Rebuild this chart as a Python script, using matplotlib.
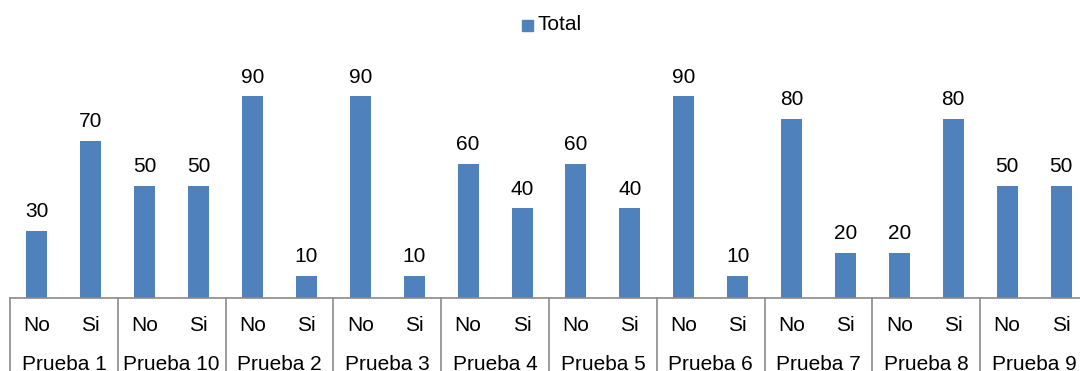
import matplotlib
matplotlib.use("Agg")
import matplotlib.pyplot as plt
from matplotlib.patches import Rectangle
from matplotlib.transforms import blended_transform_factory

pruebas = ["Prueba 1", "Prueba 10", "Prueba 2", "Prueba 3", "Prueba 4",
           "Prueba 5", "Prueba 6", "Prueba 7", "Prueba 8", "Prueba 9"]
respuestas = ["No", "Si"]
total_no = [30, 50, 90, 90, 60, 60, 90, 80, 20, 50]
total_si = [70, 50, 10, 10, 40, 40, 10, 20, 80, 50]

plt.rcParams["font.family"] = ["Liberation Sans", "DejaVu Sans"]
FS = 15
BLUE = "#4F81BD"
GRAY = "#8A8A8A"

W, H = 1080, 371
fig = plt.figure(figsize=(W / 100, H / 100), dpi=100)
ax = fig.add_axes([10 / W, (H - 298) / H, 1078 / W, 224 / H])

valores = []
for n, s in zip(total_no, total_si):
    valores += [n, s]
xs = list(range(len(valores)))

bars = ax.bar(xs, valores, width=0.39, color=BLUE, zorder=2)
for x, v in zip(xs, valores):
    ax.annotate(str(v), (x, v), xytext=(0, 10), textcoords="offset points",
                ha="center", va="baseline", fontsize=FS, color="black",
                annotation_clip=False)

ax.set_xlim(-0.5, len(valores) - 0.5)
ax.set_ylim(0, 100)
for side in ["top", "right", "left"]:
    ax.spines[side].set_visible(False)
ax.spines["bottom"].set_color(GRAY)
ax.spines["bottom"].set_linewidth(1.2)
ax.set_xticks([])
ax.set_yticks([])

# multi-level category axis
tr = blended_transform_factory(ax.transData, ax.transAxes)
for g in range(len(pruebas) + 1):
    xb = 2 * g - 0.5
    ax.plot([xb, xb], [0, -0.4], transform=tr, color=GRAY, lw=1.2,
            clip_on=False)
for g, nombre in enumerate(pruebas):
    for k, r in enumerate(respuestas):
        ax.text(2 * g + k, -0.147, r, transform=tr, ha="center",
                va="baseline", fontsize=FS, color="black")
    ax.text(2 * g + 0.5, -0.321, nombre, transform=tr, ha="center",
            va="baseline", fontsize=FS, color="black")

# legend
fig.patches.append(Rectangle((522 / W, (H - 31) / H), 11 / W, 11 / H,
                             transform=fig.transFigure, color=BLUE))
fig.text(537 / W, (H - 25) / H, "Total", ha="left", va="center",
         fontsize=FS, color="black")

fig.savefig("out.png", dpi=100, facecolor="white")
